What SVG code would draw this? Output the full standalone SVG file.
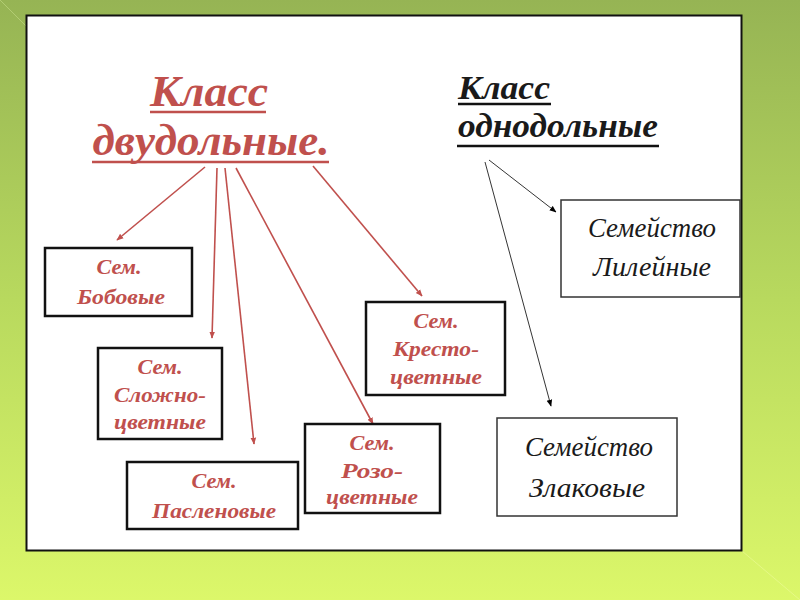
<svg xmlns="http://www.w3.org/2000/svg" width="800" height="600" viewBox="0 0 800 600">
<defs>
<linearGradient id="bg" x1="0" y1="0" x2="0" y2="1">
<stop offset="0" stop-color="#96b454"/>
<stop offset="0.5" stop-color="#b8d95e"/>
<stop offset="1" stop-color="#dcf76a"/>
</linearGradient>
<marker id="ar" viewBox="0 0 10 10" refX="9" refY="5" markerWidth="7" markerHeight="7" orient="auto" markerUnits="userSpaceOnUse">
<path d="M0,1 L10,5 L0,9 z" fill="#c0504d"/>
</marker>
<marker id="ab" viewBox="0 0 10 10" refX="9" refY="5" markerWidth="7" markerHeight="7" orient="auto" markerUnits="userSpaceOnUse">
<path d="M0,1 L10,5 L0,9 z" fill="#000"/>
</marker>
</defs>
<style>
.red{font-family:"Liberation Serif","DejaVu Serif",serif;font-style:italic;font-weight:bold;fill:#c0504d;text-anchor:middle}
.blk{font-family:"Liberation Serif","DejaVu Serif",serif;font-style:italic;fill:#1a1a1a;text-anchor:middle}
.box{fill:#fff;stroke:#111;stroke-width:2.5}
.box2{fill:#fff;stroke:#333;stroke-width:1.5}
.rl{stroke:#c0504d;stroke-width:1.6;fill:none;marker-end:url(#ar)}
.bl{stroke:#000;stroke-width:0.8;fill:none;marker-end:url(#ab)}
</style>
<rect width="800" height="600" fill="url(#bg)"/>
<line x1="0" y1="0" x2="26" y2="26" stroke="#c4dc86" stroke-width="1" opacity="0.6"/>
<line x1="742" y1="551" x2="800" y2="600" stroke="#eefc9a" stroke-width="1" opacity="0.6"/>
<rect x="26.5" y="15.5" width="715" height="535" fill="#fff" stroke="#111" stroke-width="2"/>

<g id="title-dicot">
<text class="red" x="209" y="106" font-size="44" textLength="118" lengthAdjust="spacingAndGlyphs">Класс</text>
<text class="red" x="211" y="155" font-size="44" textLength="237" lengthAdjust="spacingAndGlyphs">двудольные.</text>
<line x1="150" y1="112" x2="266" y2="112" stroke="#c0504d" stroke-width="2.5"/>
<line x1="92" y1="162" x2="329" y2="162" stroke="#c0504d" stroke-width="2.5"/>
</g>
<g id="title-monocot">
<text class="blk" x="504" y="99" font-size="34" font-weight="bold" textLength="92" lengthAdjust="spacingAndGlyphs">Класс</text>
<text class="blk" x="558" y="137" font-size="34" font-weight="bold" textLength="200" lengthAdjust="spacingAndGlyphs">однодольные</text>
<line x1="458" y1="104" x2="551" y2="104" stroke="#111" stroke-width="2.5"/>
<line x1="457" y1="146" x2="659" y2="146" stroke="#111" stroke-width="2.5"/>
</g>

<g id="connectors">
<line class="rl" x1="205" y1="167" x2="117" y2="240"/>
<line class="rl" x1="217" y1="168" x2="212" y2="338"/>
<line class="rl" x1="225" y1="168" x2="254" y2="444"/>
<line class="rl" x1="236" y1="168" x2="373" y2="424"/>
<line class="rl" x1="313" y1="166" x2="422" y2="296"/>
<line class="bl" x1="489" y1="160" x2="556" y2="212"/>
<line class="bl" x1="485" y1="162" x2="551" y2="406"/>
</g>

<g id="bobovye">
<rect class="box" x="45" y="248" width="147" height="68"/>
<text class="red" x="119" y="274" font-size="21" textLength="45" lengthAdjust="spacingAndGlyphs">Сем.</text>
<text class="red" x="121" y="304" font-size="21" textLength="88" lengthAdjust="spacingAndGlyphs">Бобовые</text>
</g>
<g id="slozhnocvetnye">
<rect class="box" x="98" y="348" width="124" height="91"/>
<text class="red" x="160" y="374" font-size="21" textLength="45" lengthAdjust="spacingAndGlyphs">Сем.</text>
<text class="red" x="160" y="402" font-size="21" textLength="92" lengthAdjust="spacingAndGlyphs">Сложно-</text>
<text class="red" x="160" y="429" font-size="21" textLength="92" lengthAdjust="spacingAndGlyphs">цветные</text>
</g>
<g id="paslenovye">
<rect class="box" x="127" y="462" width="171" height="67"/>
<text class="red" x="214" y="488" font-size="21" textLength="45" lengthAdjust="spacingAndGlyphs">Сем.</text>
<text class="red" x="214" y="518" font-size="21" textLength="124" lengthAdjust="spacingAndGlyphs">Пасленовые</text>
</g>
<g id="krestocvetnye">
<rect class="box" x="366" y="302" width="139" height="93"/>
<text class="red" x="436" y="328" font-size="21" textLength="45" lengthAdjust="spacingAndGlyphs">Сем.</text>
<text class="red" x="436" y="356" font-size="21" textLength="86" lengthAdjust="spacingAndGlyphs">Кресто-</text>
<text class="red" x="436" y="384" font-size="21" textLength="92" lengthAdjust="spacingAndGlyphs">цветные</text>
</g>
<g id="rozocvetnye">
<rect class="box" x="305" y="424" width="135" height="89"/>
<text class="red" x="372" y="450" font-size="21" textLength="45" lengthAdjust="spacingAndGlyphs">Сем.</text>
<text class="red" x="372" y="478" font-size="21" textLength="62" lengthAdjust="spacingAndGlyphs">Розо-</text>
<text class="red" x="372" y="504" font-size="21" textLength="92" lengthAdjust="spacingAndGlyphs">цветные</text>
</g>
<g id="lileynye">
<rect class="box2" x="561" y="200" width="179" height="97"/>
<text class="blk" x="652" y="237" font-size="27" textLength="128" lengthAdjust="spacingAndGlyphs">Семейство</text>
<text class="blk" x="652" y="276" font-size="27" textLength="118" lengthAdjust="spacingAndGlyphs">Лилейные</text>
</g>
<g id="zlakovye">
<rect class="box2" x="497" y="418" width="180" height="98"/>
<text class="blk" x="589" y="456" font-size="27" textLength="128" lengthAdjust="spacingAndGlyphs">Семейство</text>
<text class="blk" x="587" y="497" font-size="27" textLength="116" lengthAdjust="spacingAndGlyphs">Злаковые</text>
</g>
</svg>
